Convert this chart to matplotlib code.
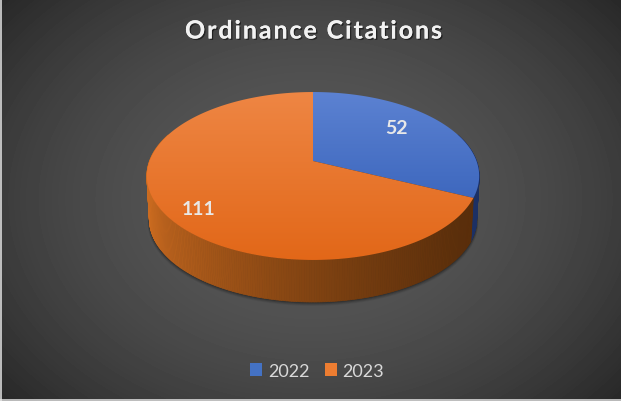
#!/usr/bin/env python3
import numpy as np
import matplotlib
matplotlib.use('Agg')
import matplotlib.pyplot as plt
from matplotlib.collections import PolyCollection
from matplotlib.patches import Patch, Polygon
import matplotlib.patheffects as pe

# Data
years = ['2022', '2023']
citations = [52, 111]
title = 'Ordinance Citations'

W, H = 621, 402
plt.rcParams['font.family'] = ['Lato', 'DejaVu Sans']

fig = plt.figure(figsize=(W / 100, H / 100), dpi=100)
ax = fig.add_axes([0, 0, 1, 1])
ax.set_xlim(0, W)
ax.set_ylim(H, 0)
ax.axis('off')

# Radial background
yy, xx = np.mgrid[0:H, 0:W]
dist = np.sqrt(((xx - 310) / 400) ** 2 + ((yy - 200) / 300) ** 2)
bg = np.clip(88 - 46 * dist ** 2.0, 36, 90) / 255
ax.imshow(bg, cmap='gray', vmin=0, vmax=1, extent=[0, W, H, 0], aspect='auto', zorder=0)

# Thin light edge left by the screenshot crop
ax.axvline(0.8, color='#e6e6e6', lw=1.1, zorder=6)
ax.axhline(H - 0.8, color='#e6e6e6', lw=1.1, zorder=6)

# Pie in perspective, angles run clockwise from 12 o'clock
cx, cy = 313, 162
rx, ry, k = 163.5, 81.3, 0.1786


def project(deg, r=1.0, scale=1.0, dy=0.0):
    a = np.radians(deg)
    u, v = r * np.sin(a), r * np.cos(a)
    d = 1 + k * v
    return cx + rx * scale * u / d, cy + dy - ry * scale * v / d


shares = np.array(citations) / sum(citations) * 360
edges = np.concatenate([[0], np.cumsum(shares)])

# Soft shadow below the pie
t = np.linspace(0, 360, 240)
for grow, alpha in zip([5, 4, 3, 2, 1], [0.05, 0.07, 0.09, 0.12, 0.16]):
    sx, sy = project(t, scale=0.985 + grow * 0.002, dy=43.5 + grow * 0.6)
    ax.add_patch(Polygon(np.c_[sx, sy], closed=True, fc='black', ec='none', alpha=alpha, zorder=1))

# Side wall
wall_dark = {0: np.array([28, 48, 100]), 1: np.array([88, 45, 10])}
wall_light = {0: np.array([50, 85, 165]), 1: np.array([205, 108, 32])}
quads, cols = [], []
angles = np.linspace(70, 290, 300)
for a0, a1 in zip(angles[:-1], angles[1:]):
    mid = (a0 + a1) / 2
    idx = 0 if mid < edges[1] else 1
    x0, y0 = project(a0)
    x1, y1 = project(a1)
    x2, y2 = project(a1, scale=0.985, dy=43.5)
    x3, y3 = project(a0, scale=0.985, dy=43.5)
    quads.append([(x0, y0), (x1, y1), (x2, y2), (x3, y3)])
    f = np.clip((x0 - 147) / 333, 0, 1) ** 0.62
    cols.append((wall_light[idx] * (1 - f) + wall_dark[idx] * f) / 255)
ax.add_collection(PolyCollection(quads, facecolors=cols, edgecolors=cols, linewidths=0.5, zorder=2))

# Top surface with a vertical gradient
tops = [((92, 130, 210), (44, 88, 178)), ((238, 134, 68), (226, 103, 24))]
for i in range(len(citations)):
    t = np.linspace(edges[i], edges[i + 1], 200)
    px, py = project(t)
    verts = np.vstack([[cx, cy], np.c_[px, py]])
    poly = Polygon(verts, closed=True, fc='none', ec='none', transform=ax.transData)
    ax.add_patch(poly)
    frac = np.linspace(0, 1, 200)[:, None, None]
    c0 = np.array(tops[i][0]) / 255
    c1 = np.array(tops[i][1]) / 255
    grad = c0 * (1 - frac) + c1 * frac
    im = ax.imshow(grad, extent=[140, 490, 262, 92], aspect='auto', zorder=3)
    im.set_clip_path(poly)
ax.set_xlim(0, W)
ax.set_ylim(H, 0)

# Data labels
label_pos = [(0.64, -7), (0.79, 10)]
for i, (r, off) in enumerate(label_pos):
    lx, ly = project((edges[i] + edges[i + 1]) / 2, r=r)
    if i == 1:
        lx += 3
    ax.text(lx, ly + off, str(citations[i]), color='#e8e8e8', fontsize=14, fontweight='bold',
            ha='center', va='center', zorder=5)

# Title, drawn letter by letter for the wide tracking
fig.canvas.draw()
rend = fig.canvas.get_renderer()
title_size = 18
title_kw = dict(color='#f2f2f2', fontsize=title_size, fontweight='bold', va='center', ha='left', zorder=5,
                path_effects=[pe.withSimplePatchShadow(offset=(1, -1), shadow_rgbFace='black', alpha=0.5),
                              pe.Normal()])
probe = ax.text(0, 0, title, fontsize=title_size, fontweight='bold')
base_w = probe.get_window_extent(rend).width
probe.remove()
track = (257 - base_w) / (len(title) - 1)
for i, ch in enumerate(title):
    probe = ax.text(0, 0, title[:i] + '|', fontsize=title_size, fontweight='bold')
    bar = ax.text(0, 0, '|', fontsize=title_size, fontweight='bold')
    adv = probe.get_window_extent(rend).width - bar.get_window_extent(rend).width
    probe.remove()
    bar.remove()
    ax.text(185 + adv + i * track, 32, ch, **title_kw)

# Legend
handles = [Patch(fc='#4472c4', ec='none'), Patch(fc='#ed7d31', ec='none')]
ax.legend(handles, years, loc='center', bbox_to_anchor=(317 / W, 1 - 372 / H), ncol=2, frameon=False,
          fontsize=13, labelcolor='#d9d9d9', handlelength=0.68, handleheight=0.68,
          handletextpad=0.3, columnspacing=0.85)

plt.savefig('out.png', dpi=100)
